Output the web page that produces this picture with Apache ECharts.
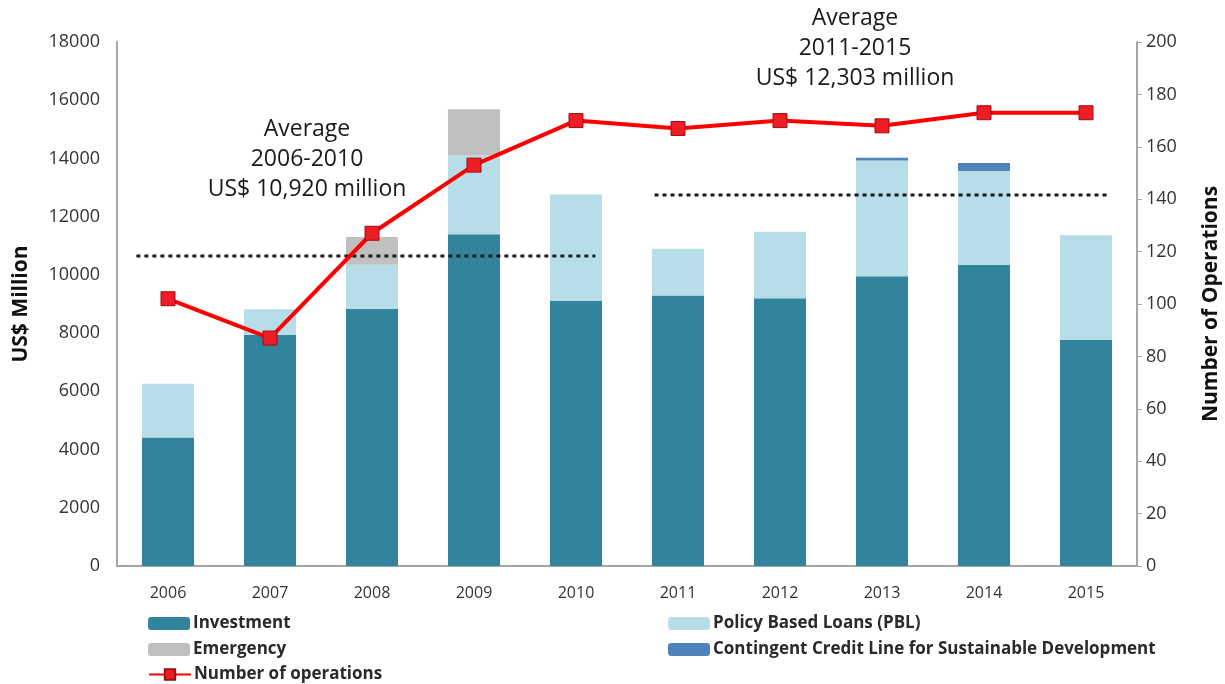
<!DOCTYPE html>
<html>
<head>
<meta charset="utf-8">
<script src="https://cdn.jsdelivr.net/npm/echarts@6/dist/echarts.min.js"></script>
<style>
    html, body { margin: 0; padding: 0; background: #fff; }
    #chart { width: 1225px; height: 684px; }
</style>
</head>
<body>
<div id="chart"></div>
<script>
// 数据
const years = ['2006', '2007', '2008', '2009', '2010', '2011', '2012', '2013', '2014', '2015']
const investment = [4410, 7940, 8840, 11400, 9100, 9290, 9200, 9950, 10350, 7760]
const pbl = [1850, 880, 1510, 2700, 3660, 1610, 2280, 3980, 3220, 3600]
const emergency = [0, 0, 950, 1590, 0, 0, 0, 0, 0, 0]
const ccl = [0, 0, 0, 0, 0, 0, 0, 90, 270, 0]
const operations = [102, 87, 127, 153, 170, 167, 170, 168, 173, 173]
// 平均线 (x 为类目位置, 0..10)
const avgFirst = [[0.19, 10650], [4.69, 10650]]
const avgSecond = [[5.27, 12740], [9.74, 12740]]
const leftTicks = [0, 18000, 2000]
const rightTicks = [0, 200, 20]

const font = 'Open Sans'
const chart = echarts.init(document.getElementById('chart'))

const barSeries = (name, data, color) => ({
    name: name,
    type: 'bar',
    stack: 'total',
    barWidth: '51%',
    data: data,
    itemStyle: { color: color },
    emphasis: { disabled: true }
})

const avgSeries = (data) => ({
    type: 'line',
    xAxisIndex: 1,
    yAxisIndex: 0,
    data: data,
    symbol: 'none',
    silent: true,
    z: 4,
    lineStyle: { color: '#1a1a1a', width: 3, type: [4, 4] }
})

// 图例一项一个, 两列排布
const legendItem = (name, left, top) => ({
    left: left,
    top: top,
    itemWidth: 42,
    itemHeight: 13,
    itemGap: 0,
    textStyle: { fontSize: 17, fontWeight: 'bold', color: '#2a2a2a', fontFamily: font, padding: [0, 0, 0, -2] },
    data: [name]
})

const annotation = (text, x, y) => ({
    type: 'text',
    x: x,
    y: y,
    style: {
        text: text,
        fontFamily: font,
        fontSize: 23,
        lineHeight: 30,
        align: 'center',
        verticalAlign: 'top',
        fill: '#1a1a1a'
    }
})

const option = {
    animation: false,
    textStyle: { fontFamily: font },
    grid: { left: 117, right: 88, top: 42, bottom: 118, outerBoundsMode: 'none' },
    legend: [
        legendItem('Investment', 143, 610),
        legendItem('Emergency', 143, 636),
        legendItem('Number of operations', 143, 661),
        legendItem('Policy Based Loans (PBL)', 663, 610),
        legendItem('Contingent Credit Line for Sustainable Development', 663, 636)
    ],
    xAxis: [{
        type: 'category',
        data: years,
        axisLine: { lineStyle: { color: '#a6a6a6', width: 2 } },
        axisTick: { show: false },
        axisLabel: { color: '#333', fontSize: 16, margin: 19 }
    }, {
        type: 'value',
        min: 0,
        max: 10,
        show: false
    }],
    yAxis: [{
        type: 'value',
        min: leftTicks[0],
        max: leftTicks[1],
        interval: leftTicks[2],
        name: 'US$ Million',
        nameLocation: 'middle',
        nameRotate: 90,
        nameGap: 85,
        nameTextStyle: { fontSize: 21, fontWeight: 'bold', color: '#111' },
        axisLine: { show: true, lineStyle: { color: '#a6a6a6', width: 2 } },
        axisTick: { show: false },
        splitLine: { show: false },
        axisLabel: { color: '#333', fontSize: 18, margin: 17, formatter: (v) => String(v) }
    }, {
        type: 'value',
        min: rightTicks[0],
        max: rightTicks[1],
        interval: rightTicks[2],
        position: 'right',
        name: 'Number of Operations',
        nameLocation: 'middle',
        nameRotate: 90,
        nameGap: 64,
        nameTextStyle: { fontSize: 21, fontWeight: 'bold', color: '#111' },
        axisLine: { show: true, lineStyle: { color: '#a6a6a6', width: 2 } },
        axisTick: { show: true, length: 5, lineStyle: { color: '#a6a6a6' } },
        splitLine: { show: false },
        axisLabel: { color: '#333', fontSize: 18, margin: 9 }
    }],
    series: [
        barSeries('Investment', investment, '#31849b'),
        barSeries('Policy Based Loans (PBL)', pbl, '#b7dde8'),
        barSeries('Emergency', emergency, '#bfbfbf'),
        barSeries('Contingent Credit Line for Sustainable Development', ccl, '#4f81bd'),
        avgSeries(avgFirst),
        avgSeries(avgSecond),
        {
            name: 'Number of operations',
            type: 'line',
            yAxisIndex: 1,
            data: operations,
            symbol: 'rect',
            symbolSize: 14,
            z: 5,
            lineStyle: { color: '#ff0000', width: 4 },
            itemStyle: { color: '#ee1c25', borderColor: '#9b1010', borderWidth: 1 }
        }
    ],
    graphic: [
        annotation('Average\n2006-2010\nUS$ 10,920 million', 307, 114),
        annotation('Average\n2011-2015\nUS$ 12,303 million', 855, 3)
    ]
}

chart.setOption(option)
</script>
</body>
</html>
